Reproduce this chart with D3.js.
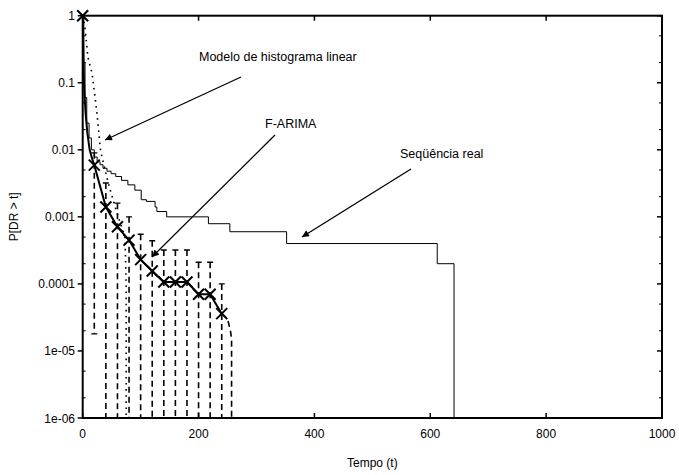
<!DOCTYPE html>
<html><head><meta charset="utf-8">
<script src="https://cdn.jsdelivr.net/npm/d3@7"></script>
<style>
body{margin:0;background:#fff;}
text{font-family:"Liberation Sans",Arial,Helvetica,sans-serif;fill:#000;}
</style></head>
<body><svg id="c" width="679" height="475"></svg>
<script>
// ---- data ----
const xTicks = [0, 200, 400, 600, 800, 1000];
const yTicks = [1e-6, 1e-5, 1e-4, 1e-3, 1e-2, 1e-1, 1];
const yTickLabels = ["1e-06", "1e-05", "0.0001", "0.001", "0.01", "0.1", "1"];

// Sequência real (empirical step function)
const realT = [0, 2, 4, 7, 11, 15, 20, 25, 30, 35, 42, 49, 57, 67, 78, 90, 101, 110, 125, 128, 145, 217, 254, 352, 612, 641];
const realP = [1, 0.2, 0.06, 0.025, 0.015, 0.01, 0.0078, 0.0066, 0.006, 0.0053, 0.0048, 0.0044, 0.004, 0.0035, 0.003, 0.0025, 0.0018, 0.0017, 0.0014, 0.0012, 0.001, 0.00079, 0.0006, 0.0004, 0.0002, 1e-6];

// F-ARIMA curve (dense start) and markers every 20
const farimaT = [0, 1, 2, 3, 5, 8, 12, 16, 20, 40, 60, 80, 100, 120, 140, 160, 180, 200, 220, 240];
const farimaP = [1, 0.3, 0.12, 0.07, 0.035, 0.018, 0.01, 0.0075, 0.0059, 0.0014, 0.00071, 0.00045, 0.00023, 0.000156, 0.000107, 0.000107, 0.000107, 0.00007, 0.00007, 0.000036];
const markT = [0, 20, 40, 60, 80, 100, 120, 140, 160, 180, 200, 220, 240];
const markP = [1, 0.0059, 0.0014, 0.00071, 0.00045, 0.00023, 0.000156, 0.000107, 0.000107, 0.000107, 0.00007, 0.00007, 0.000036];
const tailT = [240, 250, 255, 257, 257];
const tailP = [0.000036, 0.00003, 0.00002, 0.000015, 1e-6];

// Modelo de histograma linear (dotted)
const histT = [0, 4, 9, 16, 22, 27, 30, 33, 45, 55, 65, 73, 75, 75];
const histP = [1, 0.66, 0.24, 0.14, 0.055, 0.022, 0.011, 0.008, 0.003, 0.0015, 0.0008, 0.0005, 0.0001, 1e-6];

// interval bars (dashed)
const barT = [20, 40, 60, 80, 100, 120, 140, 160, 180, 200, 220, 240];
const barHi = [0.009, 0.0032, 0.0016, 0.001, 0.00055, 0.00044, 0.00032, 0.00032, 0.00032, 0.00021, 0.00021, 0.0001];
const barLo = [0.000018, 1e-7, 1e-7, 1e-7, 1e-7, 1e-7, 1e-7, 1e-7, 1e-7, 1e-7, 1e-7, 1e-7];

// ---- layout ----
const W = 679, H = 475;
const m = {l: 82.7, r: 17, t: 15.7, b: 57};
const svg = d3.select("#c");
const x = d3.scaleLinear().domain([0, 1000]).range([m.l, W - m.r]);
const y = d3.scaleLog().domain([1e-6, 1]).range([H - m.b, m.t]);

svg.append("defs").append("clipPath").attr("id", "clip")
  .append("rect").attr("x", m.l).attr("y", m.t).attr("width", x(1000) - m.l).attr("height", y(1e-6) - m.t);
const g = svg.append("g").attr("clip-path", "url(#clip)");

// bars
barT.forEach((t, i) => {
  g.append("line").attr("x1", x(t)).attr("x2", x(t)).attr("y1", y(barHi[i])).attr("y2", y(barLo[i]))
    .attr("stroke", "#000").attr("stroke-width", 1.6).attr("stroke-dasharray", "6,4");
  g.append("line").attr("x1", x(t) - 3).attr("x2", x(t) + 3).attr("y1", y(barHi[i])).attr("y2", y(barHi[i]))
    .attr("stroke", "#000").attr("stroke-width", 1.4);
  if (barLo[i] >= 1e-6) {
    g.append("line").attr("x1", x(t) - 3).attr("x2", x(t) + 3).attr("y1", y(barLo[i])).attr("y2", y(barLo[i]))
      .attr("stroke", "#000").attr("stroke-width", 1.4);
  }
});

// hist dotted
const lineGen = d3.line().x(d => x(d[0])).y(d => y(Math.max(d[1], 1e-7)));
g.append("path").datum(d3.zip(histT, histP)).attr("d", lineGen)
  .attr("fill", "none").attr("stroke", "#000").attr("stroke-width", 1.6).attr("stroke-dasharray", "1.6,4.5");

// real step
g.append("path").datum(d3.zip(realT, realP)).attr("d", lineGen.curve(d3.curveStepAfter))
  .attr("fill", "none").attr("stroke", "#000").attr("stroke-width", 1);
lineGen.curve(d3.curveLinear);

// F-ARIMA
g.append("path").datum(d3.zip(farimaT, farimaP)).attr("d", lineGen)
  .attr("fill", "none").attr("stroke", "#000").attr("stroke-width", 2);
g.append("path").datum(d3.zip(tailT, tailP)).attr("d", lineGen)
  .attr("fill", "none").attr("stroke", "#000").attr("stroke-width", 1.6).attr("stroke-dasharray", "6,4");

// markers
const s = 5.5;
markT.forEach((t, i) => {
  const cx = x(t), cy = y(markP[i]);
  svg.append("path").attr("d", `M${cx - s},${cy - s}L${cx + s},${cy + s}M${cx - s},${cy + s}L${cx + s},${cy - s}`)
    .attr("stroke", "#000").attr("stroke-width", 2).attr("fill", "none");
});

// frame
svg.append("rect").attr("x", m.l).attr("y", m.t).attr("width", x(1000) - m.l).attr("height", y(1e-6) - m.t)
  .attr("fill", "none").attr("stroke", "#000").attr("stroke-width", 2);

// ticks
const ax = svg.append("g");
xTicks.forEach(v => {
  ax.append("line").attr("x1", x(v)).attr("x2", x(v)).attr("y1", y(1e-6)).attr("y2", y(1e-6) - 5).attr("stroke", "#000").attr("stroke-width", 1.5);
  ax.append("line").attr("x1", x(v)).attr("x2", x(v)).attr("y1", y(1)).attr("y2", y(1) + 5).attr("stroke", "#000").attr("stroke-width", 1.5);
  ax.append("text").attr("x", x(v)).attr("y", y(1e-6) + 20).attr("text-anchor", "middle").attr("font-size", 12).text(v);
});
yTicks.forEach((v, i) => {
  ax.append("line").attr("x1", m.l).attr("x2", m.l - 5).attr("y1", y(v)).attr("y2", y(v)).attr("stroke", "#000").attr("stroke-width", 1.5);
  ax.append("line").attr("x1", x(1000)).attr("x2", x(1000) - 5).attr("y1", y(v)).attr("y2", y(v)).attr("stroke", "#000").attr("stroke-width", 1.5);
  ax.append("text").attr("x", 75).attr("y", y(v) + 4.5).attr("text-anchor", "end").attr("font-size", 12).text(yTickLabels[i]);
  if (i < yTicks.length - 1) {
    [2, 5].forEach(k => {
      const vv = v * k;
      ax.append("line").attr("x1", m.l).attr("x2", m.l + 3).attr("y1", y(vv)).attr("y2", y(vv)).attr("stroke", "#000").attr("stroke-width", 1);
      ax.append("line").attr("x1", x(1000)).attr("x2", x(1000) - 3).attr("y1", y(vv)).attr("y2", y(vv)).attr("stroke", "#000").attr("stroke-width", 1);
    });
  }
});

// axis labels
svg.append("text").attr("x", (m.l + x(1000)) / 2).attr("y", 467).attr("text-anchor", "middle").attr("font-size", 12).text("Tempo (t)");
svg.append("text").attr("transform", `translate(18,${(m.t + y(1e-6)) / 2}) rotate(-90)`).attr("text-anchor", "middle").attr("font-size", 12).text("P[DR > t]");

// annotations
svg.append("defs").append("marker").attr("id", "ah").attr("viewBox", "0 0 10 10").attr("refX", 10).attr("refY", 5)
  .attr("markerWidth", 9).attr("markerHeight", 7).attr("orient", "auto").attr("markerUnits", "userSpaceOnUse")
  .append("path").attr("d", "M0,0L10,5L0,10z").attr("fill", "#000");
const notes = [
  {text: "Modelo de histograma linear", tx: 199, ty: 61, x1: 241, y1: 77, x2: 105, y2: 140},
  {text: "F-ARIMA", tx: 265, ty: 128, x1: 275, y1: 135, x2: 152, y2: 257},
  {text: "Seqüência real", tx: 400, ty: 158, x1: 411, y1: 169, x2: 302, y2: 237}
];
notes.forEach(n => {
  svg.append("text").attr("x", n.tx).attr("y", n.ty).attr("font-size", 12.5).text(n.text);
  svg.append("line").attr("x1", n.x1).attr("y1", n.y1).attr("x2", n.x2).attr("y2", n.y2)
    .attr("stroke", "#000").attr("stroke-width", 1.3).attr("marker-end", "url(#ah)");
});
</script></body></html>
